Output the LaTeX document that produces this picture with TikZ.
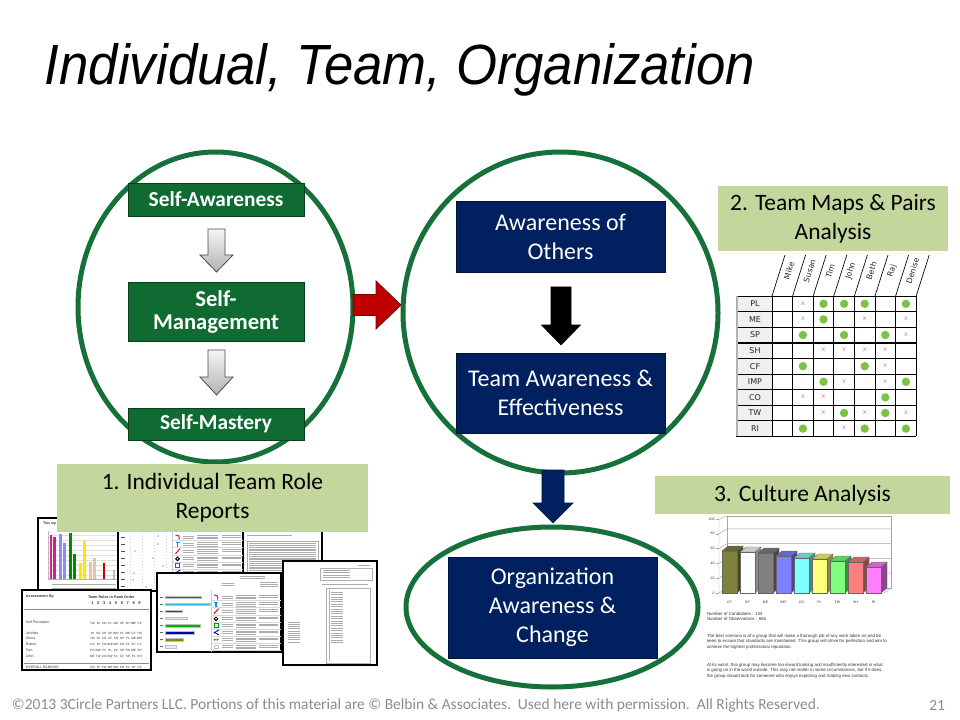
\documentclass[tikz,border=0pt]{standalone}
\usepackage{fontspec}
\setmainfont{Carlito}
\newfontfamily\arialf{Liberation Sans}
\newfontfamily\verd{DejaVu Sans}
\usetikzlibrary{shapes.geometric,calc}
\definecolor{egreen}{HTML}{16703A}
\definecolor{bgreen}{HTML}{0F6B32}
\definecolor{bgreenline}{HTML}{0A3D1C}
\definecolor{navy}{HTML}{002060}
\definecolor{navyline}{HTML}{00133A}
\definecolor{lgreen}{HTML}{C3D69B}
\definecolor{dotgreen}{HTML}{7DC242}
\definecolor{xpink}{HTML}{D9789C}
\definecolor{redarrow}{HTML}{C00000}
\definecolor{footgray}{HTML}{8C8C8C}
\definecolor{fr0}{HTML}{80803F}
\definecolor{fr1}{HTML}{FFFFFF}
\definecolor{fr2}{HTML}{808080}
\definecolor{fr3}{HTML}{7F7FFF}
\definecolor{fr4}{HTML}{7FFFFF}
\definecolor{fr5}{HTML}{FFFF7F}
\definecolor{fr6}{HTML}{7FFF7F}
\definecolor{fr7}{HTML}{FF7F7F}
\definecolor{fr8}{HTML}{FF7FFF}
\definecolor{iconmag}{HTML}{D0208A}
\newcommand\fs[2]{\fontsize{#1}{#2}\selectfont}
% vertical block arrow: style, start coord, length, shaft half, head half, head length
\newcommand\varrow[6]{\begin{scope}[shift={(#2)}]
\draw[#1] (-#4,0) -- (#4,0) -- (#4,#3-#6) -- (#5,#3-#6) -- (0,#3) -- (-#5,#3-#6) -- (-#4,#3-#6) -- cycle;
\end{scope}}
% horizontal block arrow
\newcommand\harrow[6]{\begin{scope}[shift={(#2)}]
\draw[#1] (0,-#4) -- (#3-#6,-#4) -- (#3-#6,-#5) -- (#3,0) -- (#3-#6,#5) -- (#3-#6,#4) -- (0,#4) -- cycle;
\end{scope}}
% text lines
\newcommand\tlines[5]{\foreach \k in {1,...,#5} \draw[txtl] (#1,{#3+(\k-1)*#4}) -- (#2,{#3+(\k-1)*#4});}
% role icons
\newcommand\roleicons[3]{\begin{scope}[shift={(#1,#2)}]
\draw[iconmag, line width=0.8] (1.5,2.5) .. controls (2.5,-1) and (0.5,-2.5) .. (-2,-2);
\draw[cyan!80!blue, line width=0.9] (-2,{#3-2}) -- (2,{#3-2}) (0,{#3-2}) -- (0,{#3+2.5});
\draw[red!80!black, line width=0.7] (-2,{2*#3+2.5}) -- (2.5,{2*#3-2.5});
\draw[black, line width=0.7] (0,{3*#3+0.5}) circle[radius=1.8];
\fill[green!60!black] (-2.5,{4*#3-2.5}) rectangle (2.5,{4*#3+2.5});
\draw[white, line width=0.4] (-1.2,{4*#3-1.8})--(-1.2,{4*#3+1.8}) (0,{4*#3-1.8})--(0,{4*#3+1.8}) (1.2,{4*#3-1.8})--(1.2,{4*#3+1.8});
\draw[blue!80!black, line width=0.6] (2,{5*#3-2}) -- (-1.5,{5*#3}) -- (2,{5*#3+2});
\fill[blue!80!black] (2,{5*#3-2}) circle[radius=0.9] (-1.5,{5*#3}) circle[radius=0.9] (2,{5*#3+2}) circle[radius=0.9];
\fill[olive] (-1.2,{6*#3}) circle[radius=1.3] (1.5,{6*#3}) circle[radius=1.3];
\draw[gray!50, line width=0.4] (-2,{7*#3-1.5}) rectangle (2,{7*#3+1.5});
\end{scope}}
\begin{document}
\begin{tikzpicture}[x=0.75pt,y=-0.75pt,
  every node/.style={inner sep=0pt, outer sep=0pt},
  ell/.style={draw=egreen, line width=3.75pt, ellipse},
  greenbox/.style={draw=bgreenline, fill=bgreen, line width=0.6pt, text=white, align=center, minimum width=132pt},
  navybox/.style={draw=navyline, fill=navy, line width=0.6pt, text=white, align=center, minimum width=156.75pt, font=\fs{18}{21.75}},
  labelbox/.style={fill=lgreen, align=center, font=\fs{17.6}{21.75}},
  grayarrow/.style={top color=gray!8, bottom color=gray!60, draw=gray!60!black, line width=0.6pt},
  docf/.style={fill=white, draw=black, line width=0.9pt},
  txtl/.style={draw=gray!65, line width=0.45pt},
  gridl/.style={draw=black, line width=0.5pt},
  tiny/.style={font=\arialf\fs{2.6}{3}, text=black!80}
]
\useasboundingbox (0,0) rectangle (960,720);
\fill[white] (0,0) rectangle (960,720);

% ---------- title ----------
\node[anchor=base west] (title) at (45,85) {\resizebox{532.5pt}{\height}{\arialf\itshape\fs{42.5}{48}Individual, Team, Organization}};

% ---------- left ellipse ----------
\node[ell, minimum width=206.25pt, minimum height=232.5pt] (e1) at (215.5,307) {};
\node[greenbox, minimum height=24.75pt, font=\bfseries\fs{16}{18}] (sa) at (216,199.5) {Self-Awareness};
\node[greenbox, minimum height=44.25pt, font=\bfseries\fs{17}{17.25}] (sm) at (216,312) {Self-\\Management};
\node[greenbox, minimum height=24pt, font=\bfseries\fs{16}{18}] (smy) at (216,424) {Self-Mastery};
\coordinate (g1) at (216.5,229);
\coordinate (g2) at (216.5,350);
\varrow{grayarrow}{g1}{43}{8.5}{16.5}{17}
\varrow{grayarrow}{g2}{45}{8.5}{16.5}{18}

% ---------- red arrow ----------
\coordinate (r1) at (353,305);
\harrow{fill=redarrow, draw=redarrow!60!black, line width=0.6pt}{r1}{48}{10.5}{24}{25}

% ---------- middle circle ----------
\node[ell, minimum width=236.25pt, minimum height=240.75pt] (e2) at (560.5,312.5) {};
\node[navybox, minimum height=53.25pt] (ao) at (560.5,236.5) {Awareness of\\Others};
\node[navybox, minimum height=60pt] (ta) at (560.5,393) {Team Awareness \&\\Effectiveness};
\coordinate (b1) at (561,287);
\varrow{fill=black}{b1}{58}{10}{19.5}{20}

% ---------- navy arrow + bottom ellipse ----------
\coordinate (n1) at (553,470);
\varrow{fill=navy, draw=navyline, line width=0.5pt}{n1}{53}{11}{20}{20}
\node[ell, minimum width=219pt, minimum height=120pt] (e3) at (552,607) {};
\node[navybox, minimum height=75.75pt] (oa) at (552.5,607.5) {Organization\\Awareness \&\\Change};

% ---------- team map ----------
\node[labelbox, minimum width=172.5pt, minimum height=48.75pt] (lb2) at (833,218.5) {2. Team Maps \& Pairs\\Analysis};
\fill[gray!12] (736,296) rectangle (772,436.4);
\foreach \r in {0,...,9} \draw[gridl] (736,{296+\r*15.6}) -- (916.2,{296+\r*15.6});
\foreach \r in {3,6} \draw[draw=black, line width=1.1pt] (736,{296+\r*15.6}) -- (916.2,{296+\r*15.6});
\draw[gridl] (736,296) -- (736,436.4);
\draw[draw=gray!60, line width=1.2pt] (737,296) -- (737,436.4);
\foreach \c in {0,...,7} {
  \draw[gridl] ({772+\c*20.6},296) -- ({772+\c*20.6},436.4);
  \draw[gridl] ({772+\c*20.6},296) -- ++(13,-41);
}
\foreach \nm [count=\c from 0] in {Mike,Susan,Tim,John,Beth,Raj,Denise}
  \node[rotate=72, font=\verd\fs{5.8}{7}, text=black!85] (hn\c) at ({789+\c*20.6},271) {\nm};
\foreach \r/\lab/\m in {0/PL/{0,2,1,1,1,0,1},1/ME/{0,2,1,0,2,0,2},2/SP/{0,1,0,1,0,1,2},3/SH/{0,0,2,2,2,2,0},4/CF/{0,1,0,0,1,2,0},5/IMP/{0,0,1,2,0,2,1},6/CO/{0,2,2,0,0,1,0},7/TW/{0,0,2,1,2,1,2},8/RI/{0,1,0,2,1,0,1}}{
  \node[font=\verd\fs{6}{7}, text=black!85] (rl\r) at (755,{296+(\r+0.5)*15.6}) {\lab};
  \foreach \t [count=\c from 0] in \m {
    \ifnum\t=1 \fill[dotgreen] ({782.3+\c*20.6},{296+(\r+0.5)*15.6}) circle[radius=4.2];\fi
    \ifnum\t=2 \node[font=\verd\fs{4.8}{5}, text=xpink] (xm\r\c) at ({782.3+\c*20.6},{295.5+(\r+0.5)*15.6}) {x};\fi
  }
}

% ---------- culture chart ----------
\node[labelbox, minimum width=221.25pt, minimum height=28.5pt] (lb3) at (802.5,495) {3. Culture Analysis};
\begin{scope}[draw=gray!70, line width=0.35pt]
\draw (727,516) rectangle (891,588);
\draw (719,519) -- (719,593) -- (884,593) -- (891,588);
\draw (719,519) -- (727,516);
\draw (719,593) -- (727,588);
\foreach \v in {20,40,60,80} {
  \draw (719,{593-\v*0.74}) -- (727,{588-\v*0.74}) -- (891,{588-\v*0.74});
}
\foreach \v in {0,20,40,60,80,100} \draw (716,{593-\v*0.74}) -- (719,{593-\v*0.74});
\end{scope}
\foreach \v [count=\i from 0] in {0,20,40,60,80,100}
  \node[tiny, anchor=east] (yl\i) at (714.5,{593-\v*0.74}) {\v};
\foreach \top/\lab [count=\i from 0] in {551/CF,552/SP,553/ME,556/IMP,558/CO,559/PL,561/TW,562/SH,567/RI}{
  \pgfmathsetmacro\xa{722+18*\i}
  \pgfmathsetmacro\xb{737+18*\i}
  \filldraw[fill=fr\i!55!black, draw=black!60, line width=0.3pt] (\xb,\top) -- (\xb+6,\top-5) -- (\xb+6,588) -- (\xb,593) -- cycle;
  \filldraw[fill=fr\i!80!black, draw=black!60, line width=0.3pt] (\xa,\top) -- (\xa+6,\top-5) -- (\xb+6,\top-5) -- (\xb,\top) -- cycle;
  \filldraw[fill=fr\i, draw=black!60, line width=0.3pt] (\xa,\top) rectangle (\xb,593);
  \node[tiny] (cl\i) at ({729.5+18*\i},602) {\lab};
}
\node[tiny, anchor=west, align=left, font=\arialf\fs{3.3}{4.3}] (nc) at (707,616.5) {Number of Candidates : 133\\Number of Observations : 656};
\node[tiny, anchor=west, align=left, font=\arialf\fs{3.3}{4.15}] (p1) at (707,641.5) {The best scenario is of a group that will make a thorough job of any work taken on and be\\keen to ensure that standards are maintained. This group will strive for perfection and aim to\\achieve the highest professional reputation.};
\node[tiny, anchor=west, align=left, font=\arialf\fs{3.3}{4.15}] (p2) at (707,670.5) {At its worst, this group may become too inward looking and insufficiently interested in what\\is going on in the world outside. This may not matter in some circumstances, but if it does,\\the group should look for someone who enjoys exploring and making new contacts.};

% ---------- report thumbnails ----------
% doc A: bar chart
\path[docf] (38,518) rectangle (125,590);
\node[tiny, anchor=west, font=\arialf\bfseries\fs{2.6}{3}] (dAt) at (43,524) {This rep};
\draw[gray!60, line width=0.3pt] (48,531) -- (48,579) -- (117,579);
\foreach \yy in {535,540,...,575} \draw[gray!25, line width=0.25pt] (48,\yy) -- (117,\yy);
\foreach \xx/\tt/\cc in {50/535/iconmag,53.3/537.3/iconmag,59.3/534.3/blue!45,63.3/543.3/blue!45,69.3/533.3/green!55!black,73.3/554.3/green!55!black,79.3/563.3/yellow!90!orange,83.3/540.7/yellow!90!orange,89.3/561.7/brown!45,93.3/558.3/brown!45,102.7/563.3/red!80!black,112.7/570/gray!55}
  \fill[\cc] (\xx,\tt) rectangle (\xx+2.3,579);
\tlines{52}{116}{584}{4}{2}

% doc C: text page
\path[docf] (243,519) rectangle (322,622);
\tlines{290}{318}{525}{2.5}{3}
\tlines{247}{292}{535}{2}{1}
\draw[gray!70, line width=0.4pt] (247,541) rectangle (318,582);
\tlines{249}{316}{543.5}{1.8}{21}
\tlines{247}{318}{586}{2.2}{6}

% doc B: table with icons
\path[docf] (118,522) rectangle (243,591);
\foreach \xx in {130,142,154,166} \draw[gray!35, dotted, line width=0.3pt] (\xx,530) -- (\xx,590);
\foreach \yy [count=\k from 0] in {537,544.1,551.2,558.3,565.4,572.5,579.6,586.7} {
  \draw[gray!30, line width=0.25pt] (172,\yy+3.5) -- (243,\yy+3.5);
  \fill[black!70] (121,\yy-0.4) rectangle (125,\yy+0.4);
  \tlines{183}{194}{\yy-1}{2}{2}
  \tlines{197}{218}{\yy-1.5}{1.6}{3}
  \tlines{222}{241}{\yy-1.5}{1.6}{2}
}
\foreach \xx/\yy in {158/536,158/544,135/551,153/558,163/566,134/573,133/580,146/587} \fill[black!80] (\xx,\yy) circle[radius=0.7];
\draw[gray!40, line width=0.3pt] (172,528) -- (172,590);
\roleicons{177.5}{537}{7.1}

% doc D: assessment table
\path[docf] (22,590) rectangle (151,670);
\node[tiny, anchor=west, font=\arialf\bfseries\fs{2.8}{3}] (dD1) at (26,597) {Assessment By};
\node[tiny, anchor=west, font=\arialf\bfseries\fs{2.8}{3}] (dD2) at (88,597) {Team Roles in Rank Order};
\foreach \d in {1,...,9} \node[tiny, font=\arialf\bfseries\fs{3}{3}] (dn\d) at ({86.5+5.9*\d},603) {\d};
\draw[green!50!gray, line width=0.6pt] (24,609) -- (149,609);
\draw[green!50!gray, line width=0.6pt] (24,663) -- (149,663);
\foreach \yy/\nm/\codes [count=\k] in {623/Self Perception/{TW,RI,CO,PL,ME,SP,SH,IMP,CF},633/Jennifer/{RI,CO,SH,SP,IMP,PL,ME,CF,TW},638.5/Gloria/{TW,RI,CO,CF,SH,SP,PL,ME,IMP},644/Robert/{CO,RI,TW,IMP,ME,SH,CF,SP,PL},650/Tom/{CO,IMP,RI,PL,CF,SH,TW,ME,SP},656/John/{ME,TW,CO,IMP,RI,CF,SP,PL,SH},667/OVERALL RANKING/{CO,RI,TW,ME,IMP,SH,PL,SP,CF}} {
  \node[tiny, anchor=west] (dr\k) at (26,\yy) {\nm};
  \foreach \cd [count=\j] in \codes \node[tiny, font=\arialf\fs{2.3}{3}] (dc\k\j) at ({86.5+5.9*\j},\yy) {\cd};
}

% doc E: horizontal bars + icons
\path[docf] (157,573) rectangle (281,652);
\tlines{240}{265}{576}{2}{2}
\tlines{222}{234}{583}{2}{2}
\tlines{260}{278}{582}{2}{3}
\draw[gray!40, line width=0.3pt] (211,590) -- (211,652);
\foreach \yy/\xe/\cc [count=\k] in {597/201/magenta,604.1/210/cyan!80,611.2/182/red!85!black,618.3/187/gray!20,625.4/200/green!70!black,632.5/194/blue!70!black,639.6/183/olive,646.7/176/gray!15} {
  \fill[black!60] (160,\yy-0.4) rectangle (163,\yy+0.4);
  \filldraw[fill=\cc, draw=gray!50, line width=0.15pt] (165,\yy-1.2) rectangle (\xe,\yy+1.2);
  \draw[gray!30, line width=0.25pt] (211,\yy+3.5) -- (281,\yy+3.5);
  \tlines{222}{233}{\yy-1}{2}{2}
  \tlines{236}{256}{\yy-1.5}{1.6}{3}
  \tlines{259}{278}{\yy-1.5}{1.6}{2}
}
\roleicons{216}{597}{7.1}

% doc F: list page
\path[docf] (283,561) rectangle (377,665);
\tlines{358}{370}{565}{2}{1}
\draw[gray!60, line width=0.35pt] (320,568) rectangle (372,580);
\tlines{323}{350}{570.5}{2.2}{4}
\tlines{322}{368}{584}{2}{1}
\draw[gray!60, line width=0.35pt] (326,588) rectangle (370,663);
\draw[gray!60, line width=0.35pt] (329,590) -- (329,661);
\tlines{331}{343}{592}{2.4}{22}
\tlines{288}{300}{622}{2.2}{10}

% ---------- label over thumbnails ----------
\node[labelbox, minimum width=233.25pt, minimum height=51pt] (lb1) at (212.5,498) {1. Individual Team Role\\Reports};

% ---------- footer ----------
\node[anchor=west, font=\fs{11.6}{13}, text=footgray] (foot) at (12,705) {©2013 3Circle Partners LLC. Portions of this material are © Belbin \& Associates.\ \ Used here with permission.\ \ All Rights Reserved.};
\node[anchor=east, font=\fs{11.6}{13}, text=footgray] (pg) at (945,705) {21};
\end{tikzpicture}
\end{document}
